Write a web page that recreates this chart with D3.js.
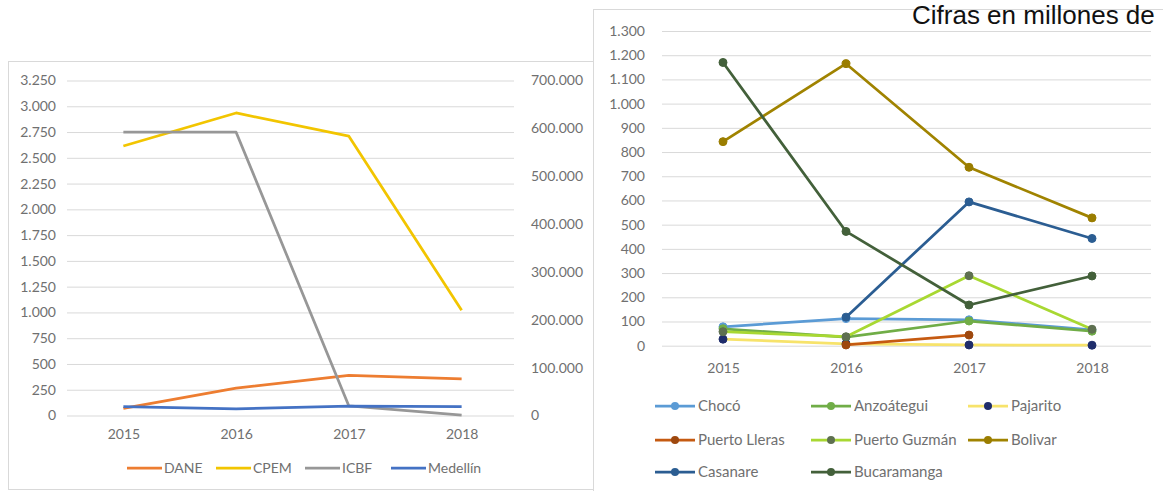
<!DOCTYPE html>
<html>
<head>
<meta charset="utf-8">
<script src="https://cdn.jsdelivr.net/npm/d3@7/dist/d3.min.js"></script>
<style>
  html, body { margin: 0; padding: 0; background: #fff; }
  svg { display: block; }
  text { font-family: Lato, "Open Sans", sans-serif; }
</style>
</head>
<body>
<svg id="chart" width="1163" height="491"></svg>
<script>
// ---- Data ----
const years = ["2015", "2016", "2017", "2018"];

// Left panel (primary axis in units, ICBF on the secondary axis)
const dane     = [70, 265, 390, 355];
const cpem     = [2615, 2935, 2710, 1020];
const icbf     = [592000, 592000, 20000, 1000];
const medellin = [85, 65, 90, 85];
const leftTicks  = [0, 250, 500, 750, 1000, 1250, 1500, 1750, 2000, 2250, 2500, 2750, 3000, 3250];
const rightTicks = [0, 100000, 200000, 300000, 400000, 500000, 600000, 700000];

// Right panel
const choco        = [78, 112, 107, 65];
const anzoategui   = [70, 35, 102, 60];
const pajarito     = [27, 8, 3, 2];
const puertoLleras = [null, 3, 44, null];
const puertoGuzman = [58, 37, 289, 68];
const bolivar      = [843, 1165, 737, 528];
const casanare     = [null, 118, 594, 443];
const bucaramanga  = [1170, 472, 168, 288];
const regionTicks  = [0, 100, 200, 300, 400, 500, 600, 700, 800, 900, 1000, 1100, 1200, 1300];

const note = "Cifras en millones de";

// ---- Helpers ----
const locale = d3.formatLocale({ decimal: ",", thousands: ".", grouping: [3], currency: ["$", ""] });
const fmt = locale.format(",d");
const svg = d3.select("#chart");
const labelColor = "#707070";
const gridColor = "#d9d9d9";
const tickFont = "14px";

// ---- Left panel ----
const leftPanel = svg.append("g");
leftPanel.append("rect")
  .attr("x", 8.5).attr("y", 61.5).attr("width", 585).attr("height", 428)
  .attr("fill", "#fff").attr("stroke", "#d9d9d9");

const lx = d3.scalePoint().domain(years).range([67, 518]).padding(0.5);
const ly = d3.scaleLinear().domain([0, 3250]).range([415.5, 80.5]);
const ly2 = d3.scaleLinear().domain([0, 700000]).range([415.5, 80.5]);

// gridlines (primary axis)
const leftAxis = d3.axisLeft(ly).tickValues(leftTicks).tickFormat(fmt)
  .tickSize(-447).tickPadding(11);
const gL = leftPanel.append("g").attr("transform", "translate(67,0)").call(leftAxis);
gL.select(".domain").remove();
gL.selectAll(".tick line").attr("stroke", gridColor).attr("stroke-width", 1);
gL.selectAll(".tick text").attr("fill", labelColor).style("font-size", tickFont);

const rightAxis = d3.axisRight(ly2).tickValues(rightTicks).tickFormat(fmt)
  .tickSize(0).tickPadding(17);
const gR = leftPanel.append("g").attr("transform", "translate(514,0)").call(rightAxis);
gR.select(".domain").remove();
gR.selectAll(".tick text").attr("fill", labelColor).style("font-size", tickFont);

const xAxisL = d3.axisBottom(lx).tickSize(0).tickPadding(14);
const gX = leftPanel.append("g").attr("transform", "translate(0,415.5)").call(xAxisL);
gX.select(".domain").remove();
gX.selectAll(".tick text").attr("fill", labelColor).style("font-size", tickFont);

const leftSeries = [
  { name: "DANE",     values: dane,     color: "#ed7d31", y: ly },
  { name: "CPEM",     values: cpem,     color: "#f2c500", y: ly },
  { name: "ICBF",     values: icbf,     color: "#979797", y: ly2 },
  { name: "Medellín", values: medellin, color: "#4472c4", y: ly }
];

leftSeries.forEach(s => {
  const line = d3.line()
    .defined(d => d != null)
    .x((d, i) => lx(years[i]))
    .y(d => s.y(d));
  leftPanel.append("path")
    .datum(s.values)
    .attr("fill", "none")
    .attr("stroke", s.color)
    .attr("stroke-width", 2.75)
    .attr("stroke-linejoin", "round")
    .attr("d", line);
});

// legend
const leftLegendX = [127, 216, 305, 391];
const legL = leftPanel.append("g");
leftSeries.forEach((s, i) => {
  const g = legL.append("g").attr("transform", `translate(${leftLegendX[i]},468)`);
  g.append("line").attr("x1", 0).attr("x2", 35).attr("y1", 0).attr("y2", 0)
    .attr("stroke", s.color).attr("stroke-width", 2.75);
  g.append("text").attr("x", 37).attr("y", 0).attr("dy", "0.35em")
    .attr("fill", labelColor).style("font-size", "14px").text(s.name);
});

// ---- Right panel ----
const rightPanel = svg.append("g");
rightPanel.append("rect")
  .attr("x", 593.5).attr("y", 9.5).attr("width", 580).attr("height", 490)
  .attr("fill", "#fff").attr("stroke", "#d9d9d9");

const rx = d3.scalePoint().domain(years).range([661.5, 1153.5]).padding(0.5);
const ry = d3.scaleLinear().domain([0, 1300]).range([345.7, 31]);

const rAxis = d3.axisLeft(ry).tickValues(regionTicks).tickFormat(fmt)
  .tickSize(-489).tickPadding(17);
const gRA = rightPanel.append("g").attr("transform", "translate(662,0)").call(rAxis);
gRA.select(".domain").remove();
gRA.selectAll(".tick line").attr("stroke", gridColor).attr("stroke-width", 1);
gRA.selectAll(".tick text").attr("fill", labelColor).style("font-size", tickFont);

const rxAxis = d3.axisBottom(rx).tickSize(0).tickPadding(17);
const gRX = rightPanel.append("g").attr("transform", "translate(0,345.7)").call(rxAxis);
gRX.select(".domain").remove();
gRX.selectAll(".tick text").attr("fill", labelColor).style("font-size", tickFont);

const rightSeries = [
  { name: "Chocó",         values: choco,        color: "#5b9bd5", marker: "#5b9bd5" },
  { name: "Anzoátegui",    values: anzoategui,   color: "#70ad47", marker: "#70ad47" },
  { name: "Pajarito",      values: pajarito,     color: "#f7e36b", marker: "#1f2d6b" },
  { name: "Puerto Lleras", values: puertoLleras, color: "#c55a11", marker: "#9e480e" },
  { name: "Puerto Guzmán", values: puertoGuzman, color: "#a8d832", marker: "#5e7050" },
  { name: "Bolivar",       values: bolivar,      color: "#a08300", marker: "#9a7d00" },
  { name: "Casanare",      values: casanare,     color: "#2b5d92", marker: "#2b5d92" },
  { name: "Bucaramanga",   values: bucaramanga,  color: "#43603a", marker: "#43603a" }
];

rightSeries.forEach(s => {
  const line = d3.line()
    .defined(d => d != null)
    .x((d, i) => rx(years[i]))
    .y(d => ry(d));
  rightPanel.append("path")
    .datum(s.values)
    .attr("fill", "none")
    .attr("stroke", s.color)
    .attr("stroke-width", 2.75)
    .attr("stroke-linejoin", "round")
    .attr("d", line);
  rightPanel.append("g").selectAll("circle")
    .data(s.values.map((v, i) => ({ v, year: years[i] })).filter(d => d.v != null))
    .join("circle")
    .attr("cx", d => rx(d.year))
    .attr("cy", d => ry(d.v))
    .attr("r", 4)
    .attr("fill", s.marker)
    .attr("stroke", s.marker)
    .attr("stroke-width", 1);
});

// legend (3 columns)
const colX = [655, 811, 968];
const rowY = [406, 440, 472];
const legR = rightPanel.append("g");
rightSeries.forEach((s, i) => {
  const g = legR.append("g").attr("transform", `translate(${colX[i % 3]},${rowY[Math.floor(i / 3)]})`);
  g.append("line").attr("x1", 0).attr("x2", 40).attr("y1", 0).attr("y2", 0)
    .attr("stroke", s.color).attr("stroke-width", 2.75);
  g.append("circle").attr("cx", 20).attr("cy", 0).attr("r", 4).attr("fill", s.marker);
  g.append("text").attr("x", 43).attr("y", 0).attr("dy", "0.35em")
    .attr("fill", labelColor).style("font-size", "15px").text(s.name);
});

// note in the top-right corner
svg.append("text")
  .attr("x", 912).attr("y", 24)
  .style("font-family", "'Liberation Sans', Arial, sans-serif")
  .style("font-size", "26px")
  .attr("fill", "#111")
  .text(note);
</script>
</body>
</html>
